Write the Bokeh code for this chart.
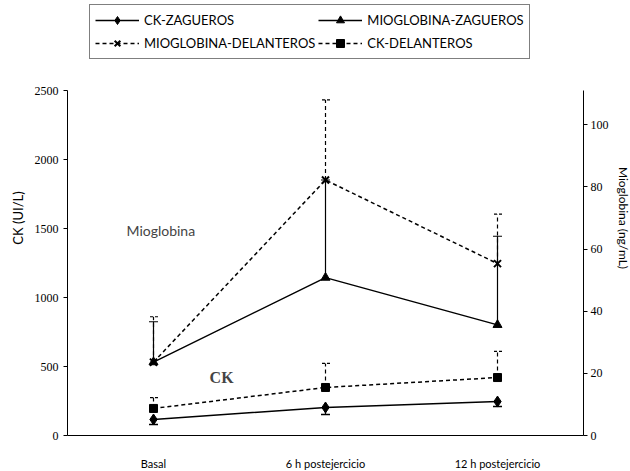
from bokeh.plotting import figure
from bokeh.models import (Range1d, LinearAxis, FixedTicker, Whisker, ColumnDataSource,
                          Legend, LegendItem, Label, TeeHead)
from bokeh.embed import file_html
from bokeh.resources import INLINE

categories = ["Basal", "6 h postejercicio", "12 h postejercicio"]
ck_zag = [116, 203, 246]
ck_zag_low = [80, 152, 210]
ck_del = [196, 348, 420]
ck_del_up = [275, 522, 609]
mio_zag = [23.6, 50.8, 35.6]
mio_zag_up = [36.6, 82.2, 64.1]
mio_del = [23.6, 82.2, 55.3]
mio_del_up = [38.2, 108.0, 71.2]
ck_ticks = [0, 500, 1000, 1500, 2000, 2500]
mio_ticks = [0, 20, 40, 60, 80, 100]
ck_max = 2500
mio_max = 111

xs = [i + 1 for i in range(len(categories))]

FH = 435          # frame height in px (frame reaches top of canvas)
AX = 345          # px height used by the axes (0..2500)
p = figure(frame_width=516, frame_height=FH, x_range=Range1d(0.5, 3.5),
           y_range=Range1d(0, ck_max * FH / AX),
           output_backend="svg", toolbar_location=None,
           min_border_left=67, min_border_right=44, min_border_top=0, min_border_bottom=30)
p.extra_y_ranges = {"mio": Range1d(0, mio_max * FH / AX)}
p.outline_line_color = None
p.xgrid.visible = False
p.ygrid.visible = False

num_font = "Liberation Serif"
txt_font = "Lato"

# left axis
ya = p.yaxis[0]
ya.bounds = (0, ck_max)
ya.ticker = FixedTicker(ticks=ck_ticks)
ya.minor_tick_line_color = None
ya.major_tick_in = 0
ya.major_tick_out = 4
ya.major_label_text_font = num_font
ya.major_label_text_font_size = "12px"
ya.major_label_text_color = "black"
ya.axis_label = "CK (UI/L)"
ya.axis_label_text_font = txt_font
ya.axis_label_text_font_style = "normal"
ya.axis_label_text_font_size = "13px"
ya.axis_label_text_color = "black"
ya.axis_label_standoff = 6
ya.axis_line_color = "black"

# right axis
ra = LinearAxis(y_range_name="mio", ticker=FixedTicker(ticks=mio_ticks), bounds=(0, mio_max))
ra.minor_tick_line_color = None
ra.major_tick_in = 0
ra.major_tick_out = 4
ra.major_label_text_font = num_font
ra.major_label_text_font_size = "12px"
ra.major_label_text_color = "black"
ra.major_label_standoff = 3
ra.axis_label = "Mioglobina (ng/mL)"
ra.axis_label_text_font = txt_font
ra.axis_label_text_font_style = "normal"
ra.axis_label_text_font_size = "12px"
ra.axis_label_text_color = "black"
ra.axis_label_standoff = 4
p.add_layout(ra, "right")

# x axis
xa = p.xaxis[0]
xa.ticker = FixedTicker(ticks=xs)
xa.major_label_overrides = {x: c for x, c in zip(xs, categories)}
xa.major_tick_line_color = None
xa.minor_tick_line_color = None
xa.major_label_standoff = 15
xa.major_label_text_font = txt_font
xa.major_label_text_font_size = "11px"
xa.major_label_text_color = "black"
xa.axis_line_color = "black"

# error bars
src_ckz = ColumnDataSource(dict(x=xs, upper=ck_zag, lower=ck_zag_low))
src_ckd = ColumnDataSource(dict(x=xs, upper=ck_del_up, lower=ck_del))
src_mz = ColumnDataSource(dict(x=xs, upper=mio_zag_up, lower=mio_zag))
src_md = ColumnDataSource(dict(x=xs, upper=mio_del_up, lower=mio_del))

p.add_layout(Whisker(source=src_ckz, base="x", upper="upper", lower="lower", upper_head=None,
                     lower_head=TeeHead(size=9, line_width=1.5), line_width=1.2))
p.add_layout(Whisker(source=src_ckd, base="x", upper="upper", lower="lower", lower_head=None,
                     upper_head=TeeHead(size=9, line_width=1.2, line_dash="3 2"), line_width=1.2, line_dash="4 3"))
p.add_layout(Whisker(source=src_md, base="x", upper="upper", lower="lower", lower_head=None,
                     upper_head=TeeHead(size=9, line_width=1.2, line_dash="3 2"), line_width=1.2, line_dash="4 3",
                     y_range_name="mio"))
p.add_layout(Whisker(source=src_mz, base="x", upper="upper", lower="lower", lower_head=None,
                     upper_head=TeeHead(size=9, line_width=1.2), line_width=1.2, y_range_name="mio"))

# series
l1 = p.line(xs, ck_zag, line_color="black", line_width=1.5)
s1 = p.scatter(xs, ck_zag, marker="diamond", size=11, color="black")
l2 = p.line(xs, mio_zag, line_color="black", line_width=1.5, y_range_name="mio")
s2 = p.scatter(xs, mio_zag, marker="triangle", size=9, color="black", y_range_name="mio")
l3 = p.line(xs, mio_del, line_color="black", line_width=1.5, line_dash="4 3", y_range_name="mio")
s3 = p.scatter(xs, mio_del, marker="x", size=10, line_color="black", line_width=2, y_range_name="mio")
l4 = p.line(xs, ck_del, line_color="black", line_width=1.5, line_dash="4 3")
s4 = p.scatter(xs, ck_del, marker="square", size=8, color="black")

legend = Legend(items=[
    LegendItem(label="CK-ZAGUEROS", renderers=[l1, s1]),
    LegendItem(label="MIOGLOBINA-ZAGUEROS", renderers=[l2, s2]),
    LegendItem(label="MIOGLOBINA-DELANTEROS", renderers=[l3, s3]),
    LegendItem(label="CK-DELANTEROS", renderers=[l4, s4]),
], location=(22, FH - 59), orientation="horizontal", ncols=2)
legend.label_text_font = txt_font
legend.label_text_font_size = "13px"
legend.label_text_color = "black"
legend.glyph_width = 44
legend.glyph_height = 20
legend.label_height = 20
legend.label_standoff = 5
legend.spacing = 3
legend.padding = 5
legend.margin = 0
legend.border_line_color = "black"
legend.border_line_width = 1
legend.background_fill_alpha = 1
p.add_layout(legend, "center")

p.add_layout(Label(x=0.843, y=1485, text="Mioglobina", text_font=txt_font, text_font_size="14px",
                   text_baseline="middle"))
p.add_layout(Label(x=1.326, y=421, text="CK", text_font=num_font, text_font_size="16px",
                   text_font_style="bold", text_baseline="middle"))

open("out.html", "w").write(file_html(p, INLINE))
